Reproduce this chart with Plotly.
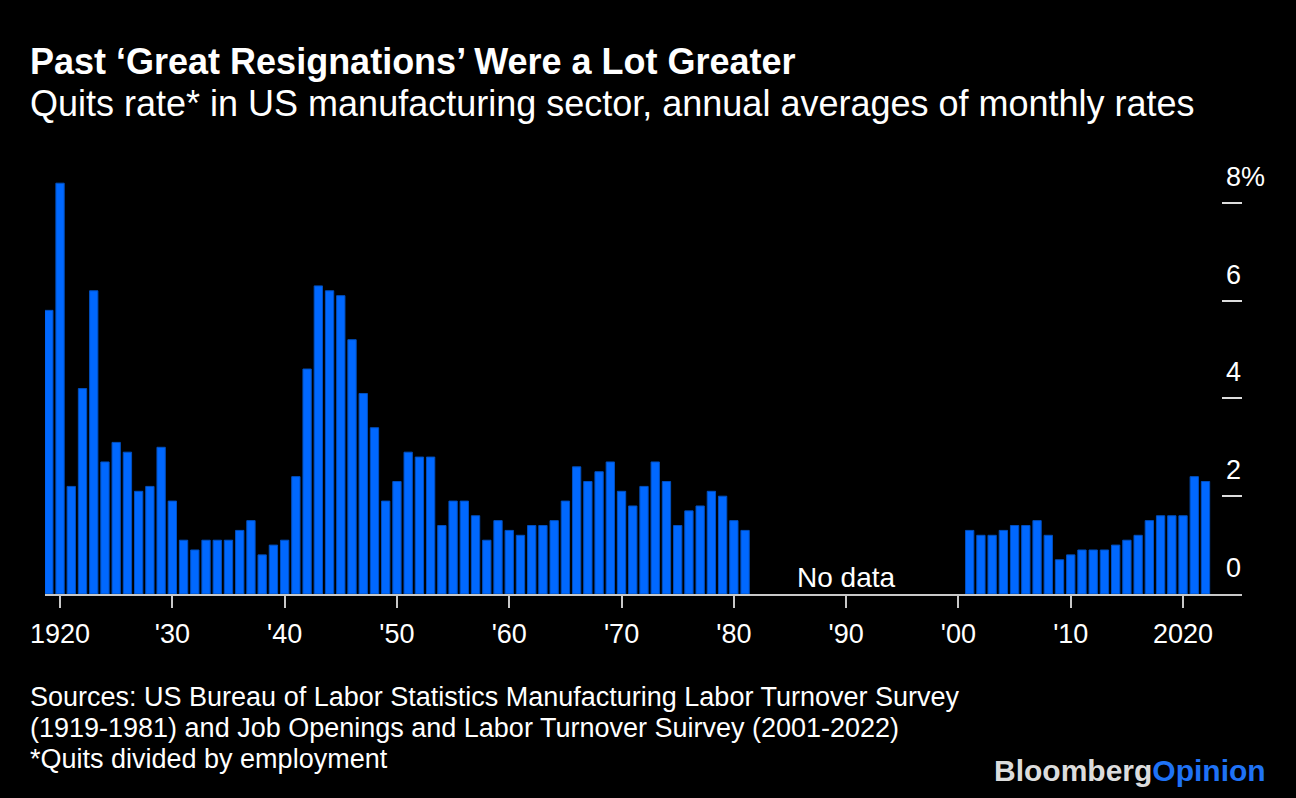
import plotly.graph_objects as go

# ---- data ----
years_early = list(range(1919, 1982))
quits_early = [5.8, 8.4, 2.2, 4.2, 6.2, 2.7, 3.1, 2.9, 2.1, 2.2,
               3.0, 1.9, 1.1, 0.9, 1.1, 1.1, 1.1, 1.3, 1.5, 0.8,
               1.0, 1.1, 2.4, 4.6, 6.3, 6.2, 6.1, 5.2, 4.1, 3.4,
               1.9, 2.3, 2.9, 2.8, 2.8, 1.4, 1.9, 1.9, 1.6, 1.1,
               1.5, 1.3, 1.2, 1.4, 1.4, 1.5, 1.9, 2.6, 2.3, 2.5,
               2.7, 2.1, 1.8, 2.2, 2.7, 2.3, 1.4, 1.7, 1.8, 2.1,
               2.0, 1.5, 1.3]
years_late = list(range(2001, 2023))
quits_late = [1.3, 1.2, 1.2, 1.3, 1.4, 1.4, 1.5, 1.2, 0.7, 0.8,
              0.9, 0.9, 0.9, 1.0, 1.1, 1.2, 1.5, 1.6, 1.6, 1.6,
              2.4, 2.3]

x_tick_vals = [1920, 1930, 1940, 1950, 1960, 1970, 1980, 1990, 2000, 2010, 2020]
x_tick_text = ["1920", "'30", "'40", "'50", "'60", "'70", "'80", "'90", "'00", "'10", "2020"]
y_tick_vals = [0, 2, 4, 6, 8]
y_tick_text = ["0", "2", "4", "6", "8%"]

title = "Past ‘Great Resignations’ Were a Lot Greater"
subtitle = "Quits rate* in US manufacturing sector, annual averages of monthly rates"
footer = ["Sources: US Bureau of Labor Statistics Manufacturing Labor Turnover Survey",
          "(1919-1981) and Job Openings and Labor Turnover Suirvey (2001-2022)",
          "*Quits divided by employment"]

BAR = "#0068ff"
FONT = "Liberation Sans, Arial, Helvetica, sans-serif"

W, H = 1296, 798
L, R, T, B = 45, 54, 170, 204

fig = go.Figure()
fig.add_trace(go.Bar(x=years_early + years_late, y=quits_early + quits_late,
                     marker=dict(color=BAR, line=dict(color="#0050c0", width=1)),
                     hoverinfo="x+y"))

fig.update_layout(
    width=W, height=H,
    paper_bgcolor="black", plot_bgcolor="black",
    margin=dict(l=L, r=R, t=T, b=B),
    bargap=0.26,
    showlegend=False,
    font=dict(family=FONT, color="white", size=26),
    xaxis=dict(range=[1918.66, 2025.25], tickvals=x_tick_vals, ticktext=x_tick_text,
               showgrid=False, zeroline=False, showline=True, linecolor="#c8c8c8",
               linewidth=2, ticks="outside", ticklen=12, tickwidth=2, tickcolor="#c8c8c8",
               tickfont=dict(size=27, color="white", family=FONT), ticklabelstandoff=3),
    yaxis=dict(range=[0, 8.67], side="right", tickvals=y_tick_vals, showticklabels=False,
               showgrid=False, zeroline=False, showline=False,
               ticks="inside", ticklen=20, tickwidth=2, tickcolor="#dddddd"),
)

annotations = []
plot_w = W - L - R
lab_x = (1224 - L) / plot_w
for v, t in zip(y_tick_vals, y_tick_text):
    annotations.append(dict(x=lab_x, xref="paper", y=v, yref="y", text=t,
                            showarrow=False, xanchor="left", yanchor="bottom", yshift=9,
                            font=dict(size=27, color="white", family=FONT)))

annotations.append(dict(x=1990, xref="x", y=0, yref="y", text="No data", showarrow=False,
                        xanchor="center", yanchor="bottom", yshift=-1,
                        font=dict(size=28, color="white", family=FONT)))

def px_x(p):
    return (p - L) / plot_w

def px_y(p):
    return 1 - (p - T) / (H - T - B)

annotations.append(dict(x=px_x(28), xref="paper", y=px_y(62), yref="paper", text="<b>" + title + "</b>",
                        showarrow=False, xanchor="left", yanchor="middle",
                        font=dict(size=36, color="white", family=FONT)))
annotations.append(dict(x=px_x(28), xref="paper", y=px_y(104), yref="paper", text=subtitle,
                        showarrow=False, xanchor="left", yanchor="middle",
                        font=dict(size=36, color="white", family=FONT)))
for i, line in enumerate(footer):
    annotations.append(dict(x=px_x(28), xref="paper", y=px_y(697 + 31 * i), yref="paper", text=line,
                            showarrow=False, xanchor="left", yanchor="middle",
                            font=dict(size=27, color="white", family=FONT)))
annotations.append(dict(x=px_x(1268), xref="paper", y=px_y(770), yref="paper",
                        text="<b><span style='color:#dcdcdc'>Bloomberg</span><span style='color:#1f72f5'>Opinion</span></b>",
                        showarrow=False, xanchor="right", yanchor="middle",
                        font=dict(size=30, family=FONT)))

fig.update_layout(annotations=annotations)
fig.write_html("out.html", config={"displayModeBar": False})

# remove default page margin so the figure sits at the window's top-left corner
with open("out.html", "r", encoding="utf-8") as f:
    html = f.read()
html = html.replace("<body>", "<body style=\"margin:0;background:black;\">", 1)
with open("out.html", "w", encoding="utf-8") as f:
    f.write(html)
